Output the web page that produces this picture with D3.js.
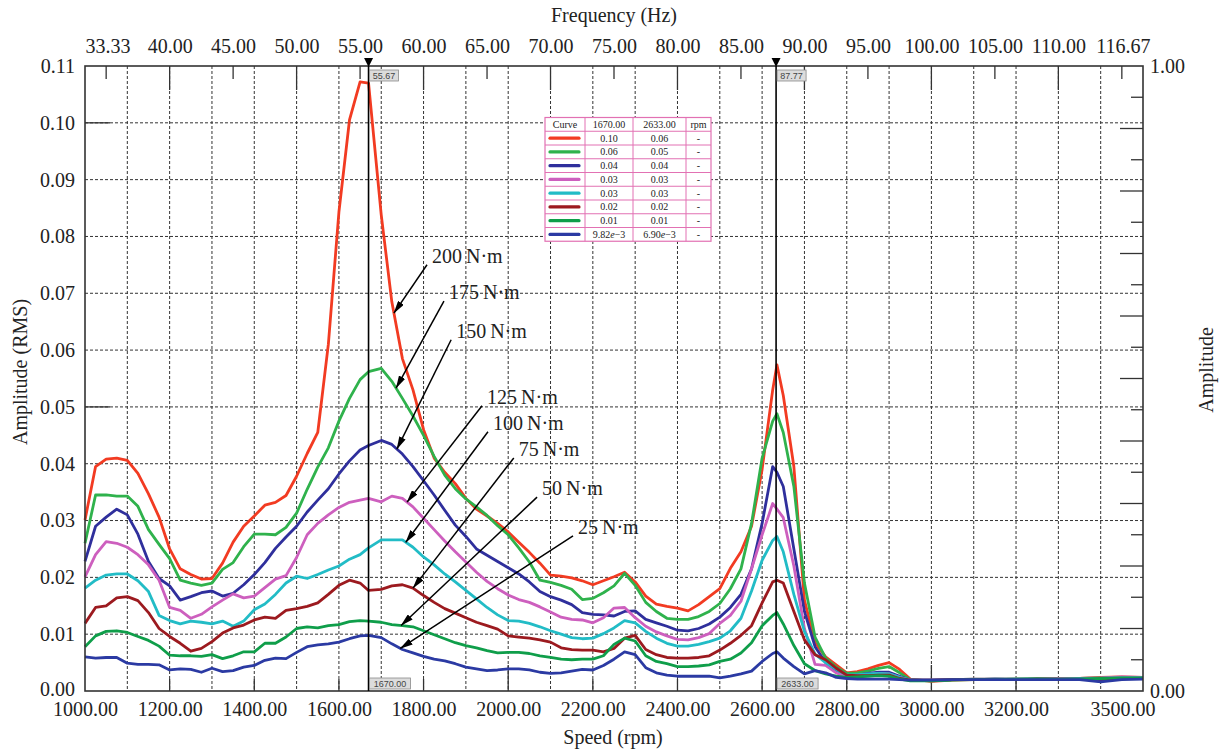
<!DOCTYPE html>
<html>
<head>
<meta charset="utf-8">
<script src="https://cdn.jsdelivr.net/npm/d3@7"></script>
<style>
body{margin:0;background:#fff;}
svg text{font-family:"Liberation Serif","Times New Roman",serif;fill:#222;}
</style>
</head>
<body>
<svg id="chart" width="1220" height="750"></svg>
<script>
// speed samples (rpm), shared by every curve
var speed = [1000,1025,1050,1075,1100,1125,1150,1175,1200,1225,1250,1275,1300,1325,1350,1375,1400,1425,1450,1475,1500,1525,1550,1575,1600,1625,1650,
	1670,
	1700,1725,1750,1775,1800,1825,1850,1875,1900,1925,1950,1975,2000,2025,2050,2075,2100,2125,2150,2175,2200,2225,2250,2275,2300,2325,2350,2375,2400,2425,2450,2475,2500,2525,2550,2575,2600,2625,
	2635,
	2650,2675,2700,2725,2750,2775,2800,2825,2850,2875,2900,2925,2950,
	3000,3050,3100,3150,3200,3250,3300,3350,3400,3450,3500];

// amplitudes, in 1e-3 RMS
var amp200 = [30.1,39.5,40.8,41.0,40.6,38.3,34.7,30.6,25.0,21.5,20.5,19.7,19.8,22.5,26.2,29.0,30.8,32.7,33.2,34.4,37.8,41.8,45.5,61.0,84.3,100.5,107.2,
	107.0,
	83.8,68.5,58.5,53.0,46.0,41.0,38.5,36.5,33.9,32.0,30.8,29.5,28.0,26.2,24.4,22.5,20.4,20.2,19.9,19.4,18.7,19.4,20.1,20.9,19.2,16.7,15.3,14.9,14.6,14.1,15.2,16.6,18.0,21.6,24.5,29.0,39.0,53.0,
	57.4,
	52.0,39.5,16.0,8.5,6.0,4.6,3.2,3.4,3.9,4.5,5.0,3.8,2.1,
	1.7,1.9,2.0,2.1,2.1,2.1,2.1,2.2,2.4,2.5,2.4];
var amp175 = [26.0,34.5,34.5,34.3,34.3,32.5,28.4,25.8,23.3,19.5,19.0,18.6,19.0,21.4,22.6,25.4,27.6,27.6,27.5,28.8,31.3,35.5,39.4,42.8,47.5,51.5,54.8,
	56.2,
	56.8,54.5,51.5,48.4,45.0,41.3,38.0,35.6,33.8,32.4,30.9,29.1,27.5,25.2,22.7,19.5,19.1,18.6,17.9,16.1,16.3,17.3,18.5,20.7,18.6,15.6,14.0,12.8,12.6,12.6,13.1,14.0,15.4,18.0,21.5,29.5,41.0,47.5,
	48.8,
	45.5,36.0,19.0,9.5,5.8,4.2,3.1,3.2,3.5,4.0,4.3,3.2,2.0,
	1.8,2.0,2.1,2.1,2.1,2.2,2.2,2.2,2.3,2.4,2.4];
var amp150 = [22.8,29.0,30.6,32.0,31.0,27.6,22.8,19.8,18.5,16.0,16.6,17.3,17.6,16.7,17.2,18.7,20.5,22.6,25.1,27.1,29.0,31.5,33.6,35.6,38.2,40.5,42.4,
	43.2,
	44.1,43.4,41.7,39.5,37.0,34.5,31.8,29.2,27.2,25.0,23.9,22.8,21.7,20.6,19.2,17.5,16.6,16.0,15.2,13.8,13.5,13.4,13.2,14.0,14.1,12.6,12.0,11.4,10.7,10.6,11.0,11.8,13.0,14.7,17.0,21.5,29.5,39.5,
	38.5,
	36.0,25.0,14.0,7.8,5.0,3.5,2.5,2.8,3.1,3.3,3.3,2.6,1.9,
	1.9,2.0,2.0,2.1,2.0,2.0,2.1,2.1,2.0,2.2,2.2];
var amp125 = [20.1,24.0,26.3,26.0,25.3,24.0,22.2,19.5,14.7,14.2,12.8,13.5,14.8,16.0,17.1,16.4,16.7,18.2,19.7,20.3,23.5,27.5,29.5,31.0,32.3,33.2,33.6,
	33.9,
	33.3,34.3,33.9,32.4,30.4,28.4,26.4,24.5,22.7,20.9,19.3,18.0,16.9,16.1,15.6,14.8,13.9,13.0,12.6,12.5,12.0,12.9,14.6,14.7,12.9,11.4,10.4,9.7,9.1,9.0,9.4,10.1,11.9,13.3,15.8,21.5,27.5,33.0,
	32.0,
	30.5,22.0,11.0,4.7,4.5,3.2,2.5,2.7,2.9,3.1,3.0,2.4,1.9,
	1.9,2.0,2.1,2.1,2.1,2.1,2.2,2.2,2.3,2.5,2.4];
var amp100 = [18.1,19.5,20.4,20.6,20.6,19.4,17.5,13.3,12.4,11.8,12.3,12.1,11.8,12.3,11.4,12.3,14.3,15.3,17.0,19.0,20.2,19.8,20.5,21.3,22.0,23.2,24.0,
	25.2,
	26.6,26.6,26.6,25.3,23.6,22.2,20.6,19.2,17.7,16.2,14.7,13.4,12.4,12.3,11.9,11.3,10.6,10.0,9.4,9.2,9.3,10.1,11.1,12.4,12.0,10.5,9.3,8.4,7.9,7.9,8.2,8.7,9.3,10.6,12.8,17.6,23.0,26.5,
	27.2,
	24.5,17.0,10.5,6.5,5.0,3.8,2.8,2.9,3.0,3.1,3.0,2.4,1.9,
	1.9,2.0,2.0,2.1,2.1,2.1,2.1,2.2,2.2,2.3,2.3];
var amp75 = [11.9,14.7,15.0,16.4,16.6,15.9,13.8,11.0,9.6,8.4,7.0,7.5,8.7,10.2,11.1,11.6,12.5,13.0,12.8,14.2,14.5,14.9,15.5,17.0,18.6,19.5,19.0,
	17.7,
	17.9,18.5,18.7,18.1,16.8,15.6,14.5,13.7,12.9,12.1,11.5,10.9,9.7,9.5,9.3,9.0,8.6,7.6,7.3,7.2,7.2,6.9,7.5,9.3,9.8,7.3,6.4,5.9,5.8,5.8,5.9,6.2,7.2,8.4,9.8,11.5,15.5,19.2,
	19.5,
	19.0,14.0,9.0,6.4,5.5,4.0,2.8,2.7,2.7,2.8,2.8,2.2,1.9,
	1.9,2.0,2.0,2.0,2.0,2.1,2.1,2.1,2.1,2.2,2.2];
var amp50 = [7.8,9.7,10.5,10.6,10.3,9.6,8.9,7.9,6.3,6.2,6.2,6.1,6.4,5.7,6.2,6.9,6.9,8.4,8.4,9.5,11.0,11.3,11.1,11.5,11.7,12.2,12.4,
	12.3,
	12.1,11.7,11.5,11.3,10.6,9.9,9.2,8.5,8.0,7.6,7.1,6.7,6.8,6.8,6.6,6.2,5.9,5.6,5.5,5.6,5.6,6.2,8.2,9.3,8.8,6.2,5.2,4.8,4.3,4.3,4.4,4.6,5.2,5.6,6.7,8.5,11.5,13.3,
	13.8,
	11.8,8.0,4.8,3.6,3.0,2.6,2.4,2.5,2.6,2.7,2.6,2.1,1.8,
	1.8,1.9,2.0,2.0,2.1,2.1,2.1,2.1,2.2,2.3,2.3];
var amp25 = [6.0,5.8,5.9,5.9,4.9,4.7,4.7,4.6,3.7,3.9,3.8,3.3,4.0,3.4,3.6,4.2,4.5,5.4,5.8,5.7,6.8,7.8,8.1,8.3,8.6,9.2,9.7,
	9.8,
	9.4,8.3,7.3,6.7,6.1,5.6,5.3,4.8,4.2,3.9,3.6,3.7,3.9,3.9,3.7,3.3,3.1,3.2,3.5,3.8,3.7,4.5,5.6,6.9,6.4,4.1,3.2,2.8,2.6,2.6,2.6,2.6,2.3,2.6,3.0,3.5,5.2,6.6,
	6.9,
	5.8,4.3,3.0,3.6,3.2,2.4,2.2,2.1,2.1,2.1,2.1,2.0,1.9,
	1.9,2.0,2.0,2.0,2.0,2.0,2.0,2.0,1.6,2.0,2.1];

var curveLabels = ['200\u2009N\u00b7m','175\u2009N\u00b7m','150\u2009N\u00b7m','125\u2009N\u00b7m','100\u2009N\u00b7m','75\u2009N\u00b7m','50\u2009N\u00b7m','25\u2009N\u00b7m'];
var curveColors = ['#f23b22','#2fb24c','#2f2f9c','#cd5fbe','#22bcc6','#9c1a1f','#0f9e4a','#2b3aa3'];
var curveValues = [amp200, amp175, amp150, amp125, amp100, amp75, amp50, amp25];

// cursor readouts (table on the chart)
var cursorSpeeds = [1670, 2633];
var cursorFreqText = ['55.67', '87.77'];
var tableAt1670 = ['0.10','0.06','0.04','0.03','0.03','0.02','0.01','9.82e\u22123'];
var tableAt2633 = ['0.06','0.05','0.04','0.03','0.03','0.02','0.01','6.90e\u22123'];

// tick labels
var speedTicks = [1000,1200,1400,1600,1800,2000,2200,2400,2600,2800,3000,3200,3500];
var freqTicks = [100/3,40,45,50,55,60,65,70,75,80,85,90,95,100,105,110,350/3];
var ampTicks = [0,0.01,0.02,0.03,0.04,0.05,0.06,0.07,0.08,0.09,0.10,0.11];

// where each torque label sits and which speed its arrow points at
var notes = [
	{tip:1730, at:[1820,0.0766]},
	{tip:1735, at:[1860,0.0702]},
	{tip:1737, at:[1877,0.0634]},
	{tip:1761, at:[1950,0.0518]},
	{tip:1758, at:[1964,0.0472]},
	{tip:1775, at:[2025,0.0426]},
	{tip:1747, at:[2080,0.0357]},
	{tip:1745, at:[2165,0.0289]}
];

var plot = {left:85, right:1143, top:66, bottom:691};
var svg = d3.select('#chart');

var x = d3.scaleLinear().domain([1000,3500]).range([plot.left, plot.right]);
var y = d3.scaleLinear().domain([0,0.11]).range([plot.bottom, plot.top]);
var xHz = d3.scaleLinear().domain([1000/30, 3500/30]).range([plot.left, plot.right]);
var yRel = d3.scaleLinear().domain([0,1]).range([plot.bottom, plot.top]);

var fmt = d3.format('.2f');

//dashed grid
var grid = svg.append('g');
grid.selectAll('.vg').data(x.ticks(25).filter(function(d){return d>1000 && d<3500})).enter()
	.append('line')
	.attr('x1', function(d){return x(d)}).attr('x2', function(d){return x(d)})
	.attr('y1', plot.top).attr('y2', plot.bottom)
	.attr('stroke','#333').attr('stroke-width',1).attr('stroke-dasharray','3,2');
grid.selectAll('.hg').data(ampTicks.slice(1,-1)).enter()
	.append('line')
	.attr('x1', plot.left).attr('x2', plot.right)
	.attr('y1', function(d){return y(d)}).attr('y2', function(d){return y(d)})
	.attr('stroke','#333').attr('stroke-width',1).attr('stroke-dasharray','3,2');

//solid inner ticks
var ticks = svg.append('g').attr('stroke','#333').attr('stroke-width',1.3);
ticks.selectAll('.tb').data(speedTicks.slice(1,-1)).enter().append('line')
	.attr('x1', function(d){return x(d)}).attr('x2', function(d){return x(d)})
	.attr('y1', plot.bottom).attr('y2', function(d){return plot.bottom - (d%500==0 ? 26 : 12)});
ticks.selectAll('.tt').data(d3.range(35,116,5)).enter().append('line')
	.attr('x1', function(d){return xHz(d)}).attr('x2', function(d){return xHz(d)})
	.attr('y1', plot.top).attr('y2', function(d){return plot.top + (d%10==0 ? 24 : 13)});
ticks.selectAll('.tl').data([0.05,0.10]).enter().append('line')
	.attr('x1', plot.left).attr('x2', plot.left+25)
	.attr('y1', function(d){return y(d)}).attr('y2', function(d){return y(d)});
ticks.selectAll('.tr').data(yRel.ticks(20).slice(1,-1)).enter().append('line')
	.attr('x1', plot.right).attr('x2', function(d,i){return plot.right - (i%2==1 ? 23 : 12)})
	.attr('y1', function(d){return yRel(d)}).attr('y2', function(d){return yRel(d)});

//curves
var line = d3.line().x(function(d){return x(d[0])}).y(function(d){return y(d[1])});
curveValues.forEach(function(vals, i){
	var pts = d3.zip(speed, vals.map(function(v){return v/1000}));
	svg.append('path').datum(pts)
		.attr('d', line)
		.attr('fill','none')
		.attr('stroke', curveColors[i])
		.attr('stroke-width', 2.8)
		.attr('stroke-linejoin','round');
});

//frame
svg.append('rect')
	.attr('x', plot.left).attr('y', plot.top)
	.attr('width', plot.right-plot.left).attr('height', plot.bottom-plot.top)
	.attr('fill','none').attr('stroke','#333').attr('stroke-width',1.6);

//axes (labels only)
function styleAxis(g){
	g.select('.domain').remove();
	g.attr('font-size', null).attr('font-family', null);
	g.selectAll('text').style('font-size','20px');
}
var axB = svg.append('g').attr('transform','translate(0,'+plot.bottom+')')
	.call(d3.axisBottom(x).tickValues(speedTicks).tickSize(0).tickPadding(11).tickFormat(fmt))
	.call(styleAxis);
axB.selectAll('.tick text').filter(function(d){return d==3500}).attr('text-anchor','end').attr('x',12);

var axT = svg.append('g').attr('transform','translate(0,'+plot.top+')')
	.call(d3.axisTop(xHz).tickValues(freqTicks).tickSize(0).tickPadding(13).tickFormat(fmt))
	.call(styleAxis);
axT.selectAll('.tick text').filter(function(d,i){return i==0}).attr('text-anchor','start');
axT.selectAll('.tick text').filter(function(d,i){return i==freqTicks.length-1}).attr('text-anchor','end').attr('x',7);

var axL = svg.append('g').attr('transform','translate('+plot.left+',0)')
	.call(d3.axisLeft(y).tickValues(ampTicks).tickSize(0).tickPadding(10).tickFormat(fmt))
	.call(styleAxis);
axL.selectAll('.tick text').filter(function(d){return d==0}).attr('dy','0.2em'); //keep clear of 1000.00
svg.append('g').attr('transform','translate('+plot.right+',0)')
	.call(d3.axisRight(yRel).tickValues([0,1]).tickSize(0).tickPadding(7).tickFormat(fmt))
	.call(styleAxis);

//axis titles
svg.append('text').attr('x',614).attr('y',22).attr('text-anchor','middle').style('font-size','20px').text('Frequency (Hz)');
svg.append('text').attr('x',613).attr('y',744).attr('text-anchor','middle').style('font-size','20px').text('Speed (rpm)');
svg.append('text').attr('transform','translate(27,372) rotate(-90)').attr('text-anchor','middle').style('font-size','20px').text('Amplitude (RMS)');
svg.append('text').attr('transform','translate(1213,370) rotate(-90)').attr('text-anchor','middle').style('font-size','20px').text('Amplitude');

//cursors
cursorSpeeds.forEach(function(s, i){
	var cx = x(s);
	svg.append('line')
		.attr('x1',cx).attr('x2',cx).attr('y1',plot.top).attr('y2',plot.bottom)
		.attr('stroke','#000').attr('stroke-width',1.6);
	svg.append('path')
		.attr('d','M'+(cx-4.5)+','+(plot.top-8)+'L'+(cx+4.5)+','+(plot.top-8)+'L'+cx+','+(plot.top+1)+'Z')
		.attr('fill','#000');
	//little grey readouts
	[[cursorFreqText[i], plot.top+4, 29], [fmt(s), plot.bottom-13, 41]].forEach(function(b){
		svg.append('rect')
			.attr('x',cx+1).attr('y',b[1]).attr('width',b[2]).attr('height',11)
			.attr('fill','#dcdcdc').attr('stroke','#8a8a8a').attr('stroke-width',0.8);
		svg.append('text')
			.attr('x',cx+1+b[2]/2).attr('y',b[1]+8.6).attr('text-anchor','middle')
			.style('font-family','"Liberation Sans",sans-serif').style('font-size','9px').style('fill','#444')
			.text(b[0]);
	});
});

//torque labels with arrows
var defs = svg.append('defs');
defs.append('marker')
	.attr('id','arrow').attr('viewBox','0 0 13 7')
	.attr('refX',12.5).attr('refY',3.5)
	.attr('markerWidth',13).attr('markerHeight',7)
	.attr('markerUnits','userSpaceOnUse').attr('orient','auto')
	.append('path').attr('d','M0,0L13,3.5L0,7Z').attr('fill','#000');

function valueAt(vals, s){
	var i = d3.bisectRight(speed, s) - 1;
	var t = (s - speed[i])/(speed[i+1]-speed[i]);
	return (vals[i] + t*(vals[i+1]-vals[i]))/1000;
}
notes.forEach(function(n, i){
	var tx = x(n.at[0]), ty = y(n.at[1]);
	svg.append('line')
		.attr('x1', tx-5).attr('y1', ty+9)
		.attr('x2', x(n.tip)).attr('y2', y(valueAt(curveValues[i], n.tip)))
		.attr('stroke','#000').attr('stroke-width',1.5)
		.attr('marker-end','url(#arrow)');
	svg.append('text')
		.attr('x', tx).attr('y', ty+7)
		.style('font-size','20px')
		.text(curveLabels[i]);
});

//cursor table
var colX = [545,585,633,686,711];
var rowY0 = 117.5, rowH = 13.75;
var nRows = curveColors.length + 1;
var tbl = svg.append('g');
tbl.append('rect')
	.attr('x',colX[0]).attr('y',rowY0).attr('width',colX[4]-colX[0]).attr('height',nRows*rowH)
	.attr('fill','#fff').attr('stroke','#e271b3').attr('stroke-width',1.2);
tbl.selectAll('.rl').data(d3.range(1,nRows)).enter().append('line')
	.attr('x1',colX[0]).attr('x2',colX[4])
	.attr('y1',function(d){return rowY0+d*rowH}).attr('y2',function(d){return rowY0+d*rowH})
	.attr('stroke','#e271b3').attr('stroke-width',1);
tbl.selectAll('.cl').data(colX.slice(1,-1)).enter().append('line')
	.attr('x1',function(d){return d}).attr('x2',function(d){return d})
	.attr('y1',rowY0).attr('y2',rowY0+nRows*rowH)
	.attr('stroke','#e271b3').attr('stroke-width',1);

function cellText(col, row, txt){
	return tbl.append('text')
		.attr('x',(colX[col]+colX[col+1])/2).attr('y',rowY0+row*rowH+rowH/2+3.4)
		.attr('text-anchor','middle').style('font-size','10px')
		.text(txt);
}
['Curve', fmt(cursorSpeeds[0]), fmt(cursorSpeeds[1]), 'rpm'].forEach(function(h, c){ cellText(c, 0, h) });
curveColors.forEach(function(col, r){
	var yy = rowY0+(r+1)*rowH+rowH/2;
	tbl.append('line')
		.attr('x1',colX[0]+5).attr('x2',colX[1]-6).attr('y1',yy).attr('y2',yy)
		.attr('stroke',col).attr('stroke-width',3.2).attr('stroke-linecap','round');
	[tableAt1670[r], tableAt2633[r]].forEach(function(v, c){
		var t = cellText(c+1, r+1, '');
		if (v.indexOf('e') > 0){
			var parts = v.split('e');
			t.append('tspan').text(parts[0]);
			t.append('tspan').style('font-style','italic').text('e');
			t.append('tspan').text(parts[1]);
		} else {
			t.text(v);
		}
	});
	cellText(3, r+1, '-');
});
</script>
</body>
</html>
